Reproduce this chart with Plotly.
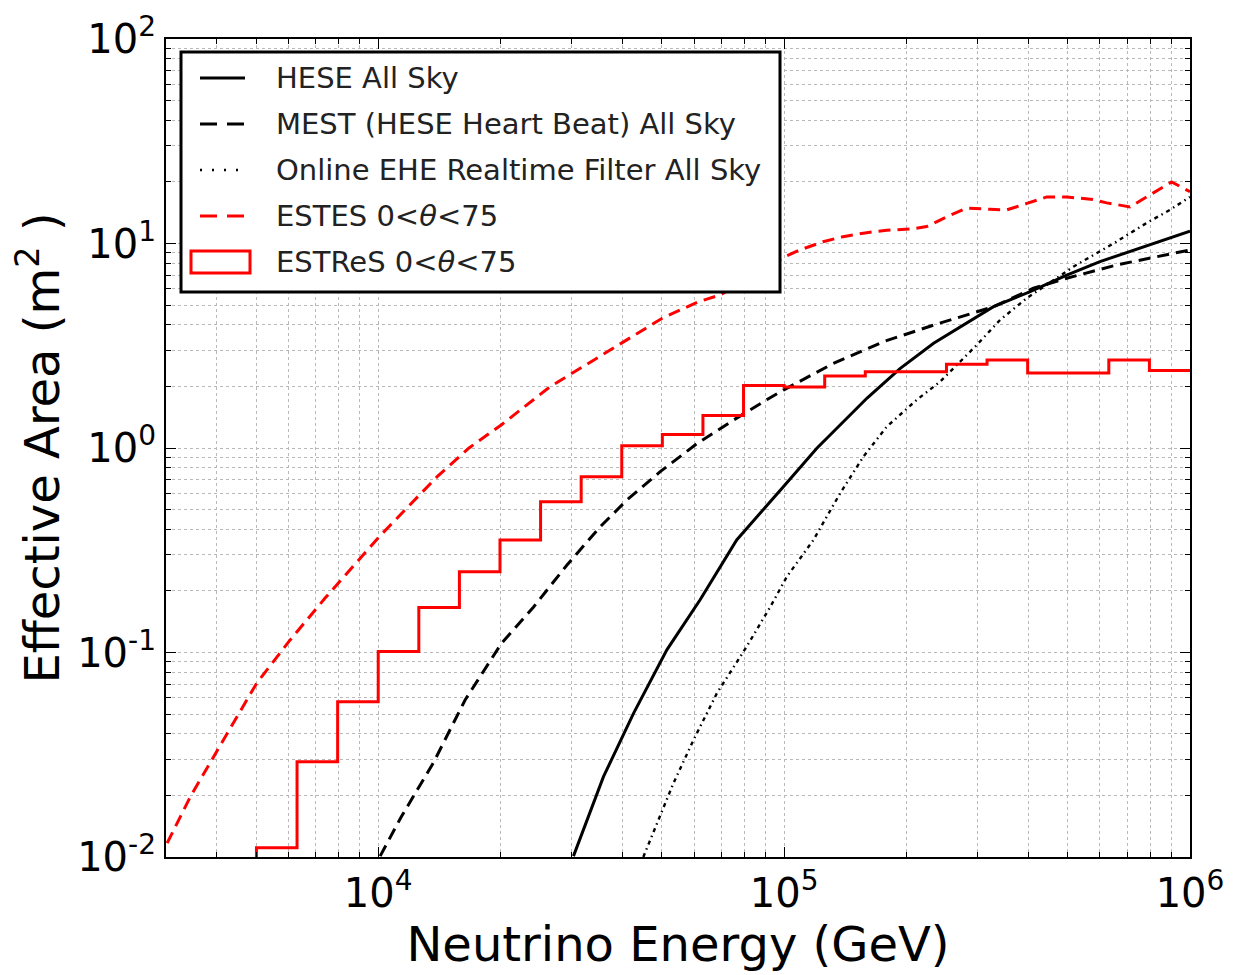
import numpy as np
import plotly.graph_objects as go

# ---------------- data ----------------
hese_E = [30270, 35890, 42560, 51420, 62100, 76410, 99580, 120400, 159900, 193300,
          233500, 328000, 403800, 497000, 600000, 796600, 1e6]
hese_A = [0.0101, 0.0247, 0.0504, 0.103, 0.181, 0.355, 0.647, 0.997, 1.75, 2.45,
          3.25, 4.91, 5.81, 7.01, 8.15, 9.84, 11.5]

mest_E = [10110, 11390, 13650, 16370, 20130, 24140, 29180, 35240, 41000, 49510, 60960,
          75030, 90610, 99580, 132200, 175600, 233500, 328000, 411400, 497000, 659200,
          796600, 1e6]
mest_A = [0.0101, 0.0157, 0.0287, 0.0586, 0.111, 0.167, 0.268, 0.412, 0.557, 0.766, 1.05,
          1.37, 1.72, 1.92, 2.59, 3.31, 3.99, 4.91, 6.04, 6.76, 7.85, 8.47, 9.30]

ehe_E = [44990, 47620, 53350, 59790, 68260, 80900, 92420, 101600, 118100, 137400, 156700,
         178900, 212200, 242300, 298300, 340500, 396100, 516100, 647700, 782000, 892500, 1e6]
ehe_A = [0.0100, 0.0131, 0.0229, 0.0373, 0.0631, 0.107, 0.167, 0.235, 0.355, 0.600, 0.906,
         1.27, 1.72, 2.11, 3.19, 4.23, 5.40, 7.70, 10.0, 12.6, 14.6, 16.9]

estes_E = [3020, 3443, 4224, 5017, 6020, 7390, 10050, 13970, 16740, 20130, 26470, 32510,
           39850, 50080, 61440, 69570, 100400, 109400, 124700, 139700, 159800, 179100,
           207900, 224500, 251600, 281900, 321500, 353700, 396500, 443900, 497000, 576500,
           623400, 711500, 782000, 901000, 1e6]
estes_A = [0.0117, 0.0197, 0.0395, 0.0707, 0.113, 0.184, 0.368, 0.724, 1.0, 1.30, 1.99, 2.55,
           3.25, 4.31, 5.19, 5.60, 8.62, 9.30, 10.2, 10.8, 11.3, 11.6,
           11.8, 12.1, 13.5, 14.9, 14.7, 14.6, 15.7, 16.9, 16.9, 16.4,
           15.8, 15.1, 16.9, 20.0, 17.9]

# ESTReS histogram: bin edges (log10 GeV) and bin contents
estres_edges_log = [3.7, 3.8, 3.9, 4.0, 4.1, 4.2, 4.3, 4.4, 4.5, 4.6, 4.7, 4.8, 4.9, 5.0,
                    5.1, 5.2, 5.3, 5.4, 5.5, 5.6, 5.7, 5.8, 5.9, 6.0]
estres_A = [0.0111, 0.0292, 0.0574, 0.101, 0.166, 0.248, 0.355, 0.546, 0.723, 1.026, 1.164,
            1.44, 2.02, 1.99, 2.25, 2.36, 2.36, 2.57, 2.69, 2.33, 2.33, 2.69, 2.39]

legend_labels = ["HESE All Sky",
                 "MEST (HESE Heart Beat) All Sky",
                 "Online EHE Realtime Filter All Sky",
                 "ESTES 0&lt;<i>θ</i>&lt;75",
                 "ESTReS 0&lt;<i>θ</i>&lt;75"]

x_ticks = [1e4, 1e5, 1e6]
x_ticktext = ["10<sup>4</sup>", "10<sup>5</sup>", "10<sup>6</sup>"]
y_ticks = [1e-2, 1e-1, 1e0, 1e1, 1e2]
y_ticktext = ["10<sup>-2</sup>", "10<sup>-1</sup>", "10<sup>0</sup>", "10<sup>1</sup>", "10<sup>2</sup>"]

# ---------------- figure ----------------
RED = "#ff0000"
DASH = "12px,7px"
DASHDOT = "4px,4px,1.5px,4px"
LW = 3.0

fig = go.Figure()
fig.add_trace(go.Scatter(x=hese_E, y=hese_A, mode="lines", name=legend_labels[0],
                         line=dict(color="black", width=LW)))
fig.add_trace(go.Scatter(x=mest_E, y=mest_A, mode="lines", name=legend_labels[1],
                         line=dict(color="black", width=LW, dash=DASH)))
fig.add_trace(go.Scatter(x=ehe_E, y=ehe_A, mode="lines", name=legend_labels[2],
                         line=dict(color="black", width=2.4, dash=DASHDOT)))
fig.add_trace(go.Scatter(x=estes_E, y=estes_A, mode="lines", name=legend_labels[3],
                         line=dict(color=RED, width=LW, dash=DASH)))

edges = [10 ** e for e in estres_edges_log]
floor = 1e-6
step_x = [edges[0]] + edges
step_y = [floor] + list(estres_A) + [estres_A[-1]]
fig.add_trace(go.Scatter(x=step_x, y=step_y, mode="lines", line_shape="hv",
                         name=legend_labels[4], line=dict(color=RED, width=LW)))

grid_col = "#b8b8b8"
minor_x = [k * 10 ** n for n in (3, 4, 5) for k in range(2, 10)]
minor_y = [k * 10 ** n for n in (-2, -1, 0, 1) for k in range(2, 10)]

axis_common = dict(
    type="log", ticks="inside", ticklen=10, tickwidth=1.2, tickcolor="black",
    showline=True, linecolor="black", linewidth=2, mirror="allticks",
    showgrid=True, gridcolor=grid_col, griddash="3px,3px", gridwidth=1,
    zeroline=False, tickfont=dict(size=40, family="DejaVu Sans", color="black"),
)

fig.update_xaxes(
    **axis_common, range=[np.log10(3000), 6], tickvals=x_ticks, ticktext=x_ticktext,
    minor=dict(tickvals=minor_x, ticks="inside", ticklen=5, tickcolor="black",
               showgrid=True, gridcolor=grid_col, griddash="3px,3px", gridwidth=1),
    title=dict(text="Neutrino Energy (GeV)", font=dict(size=48, family="DejaVu Sans"),
               standoff=4),
)
fig.update_yaxes(
    **axis_common, range=[-2, 2], tickvals=y_ticks, ticktext=y_ticktext,
    minor=dict(tickvals=minor_y, ticks="inside", ticklen=5, tickcolor="black",
               showgrid=True, gridcolor=grid_col, griddash="3px,3px", gridwidth=1),
    title=dict(text="Effective Area (m<sup>2</sup> )", font=dict(size=48, family="DejaVu Sans"),
               standoff=14),
)

# ---------------- legend drawn in paper coordinates ----------------
# (page body has an 8 px margin, so the figure is 8 px smaller and shifted)
PLOT_L, PLOT_T, PLOT_W, PLOT_H = 166, 39, 1024, 818


def px_x(p):
    return (p - PLOT_L) / PLOT_W


def px_y(p):
    return (PLOT_T + PLOT_H - p) / PLOT_H


shapes = [dict(type="rect", xref="paper", yref="paper",
               x0=px_x(181), x1=px_x(780), y0=px_y(292), y1=px_y(52),
               fillcolor="white", line=dict(color="black", width=3), layer="above")]
rows = [78, 124, 170, 216, 262]
styles = [dict(color="black", width=LW),
          dict(color="black", width=LW, dash="17px,10px"),
          dict(color="black", width=2.4, dash="2px,10px"),
          dict(color=RED, width=LW, dash="17px,10px")]
for r, st in zip(rows[:4], styles):
    shapes.append(dict(type="line", xref="paper", yref="paper",
                       x0=px_x(200), x1=px_x(245), y0=px_y(r), y1=px_y(r),
                       line=st, layer="above"))
shapes.append(dict(type="rect", xref="paper", yref="paper",
                   x0=px_x(191), x1=px_x(250), y0=px_y(273), y1=px_y(251),
                   fillcolor="rgba(0,0,0,0)", line=dict(color=RED, width=LW), layer="above"))

annotations = []
for r, lab in zip(rows, legend_labels):
    annotations.append(dict(xref="paper", yref="paper", x=px_x(274), y=px_y(r),
                            xanchor="left", yanchor="middle", text=lab, showarrow=False,
                            font=dict(size=29, family="DejaVu Sans", color="#222222")))

fig.update_layout(
    width=1228, height=967,
    margin=dict(l=PLOT_L - 8, r=46, t=PLOT_T - 8, b=118, autoexpand=False),
    plot_bgcolor="white", paper_bgcolor="white",
    showlegend=False, shapes=shapes, annotations=annotations,
    font=dict(family="DejaVu Sans", color="black"),
)

fig.write_html("out.html")
